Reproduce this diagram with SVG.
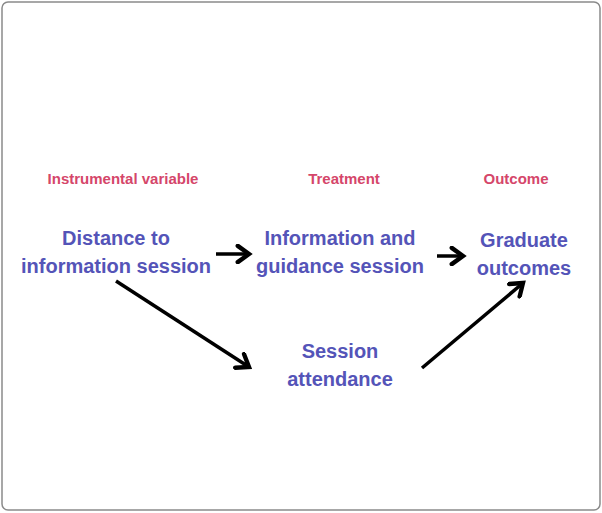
<svg xmlns="http://www.w3.org/2000/svg" width="602" height="513" viewBox="0 0 602 513">
<defs>
<style>
.lbl{font-family:"Liberation Sans",Arial,sans-serif;font-weight:bold;font-size:15px;fill:#d5466a;text-anchor:middle}
.node{font-family:"Liberation Sans",Arial,sans-serif;font-weight:bold;font-size:20px;fill:#5454b8;text-anchor:middle}
.conn{stroke:#000;stroke-width:3.5;fill:none}
</style>
<marker id="ah" markerUnits="userSpaceOnUse" markerWidth="20" markerHeight="20" viewBox="-12 -8 14 16" refX="0" refY="0" orient="auto">
<path d="M-9,-6.5 L0,0 L-9,6.5" fill="none" stroke="#000" stroke-width="3.5" stroke-linecap="round" stroke-linejoin="miter"/>
</marker>
</defs>
<rect x="2" y="2" width="598" height="508" rx="6" fill="#fff" stroke="#8a8a8a" stroke-width="1.5"/>
<text class="lbl" x="123" y="184">Instrumental variable</text>
<text class="lbl" x="344" y="184">Treatment</text>
<text class="lbl" x="516" y="184">Outcome</text>
<g id="distance"><text class="node" x="116" y="245">Distance to</text><text class="node" x="116" y="273">information session</text></g>
<g id="treatment"><text class="node" x="340" y="245">Information and</text><text class="node" x="340" y="273">guidance session</text></g>
<g id="outcome"><text class="node" x="524" y="247">Graduate</text><text class="node" x="524" y="275">outcomes</text></g>
<g id="attendance"><text class="node" x="340" y="358">Session</text><text class="node" x="340" y="386">attendance</text></g>
<g id="connectors">
<line class="conn" x1="216" y1="254" x2="249" y2="254" marker-end="url(#ah)"/>
<line class="conn" x1="437" y1="256" x2="463" y2="256" marker-end="url(#ah)"/>
<line class="conn" x1="116" y1="281" x2="249" y2="367" marker-end="url(#ah)"/>
<line class="conn" x1="422" y1="368" x2="523" y2="283" marker-end="url(#ah)"/>
</g>
</svg>
